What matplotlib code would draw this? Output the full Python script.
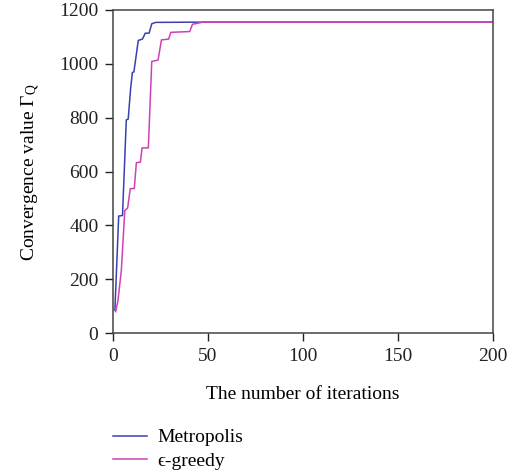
import matplotlib.pyplot as plt
import numpy as np

plt.rcParams['font.family'] = ['Liberation Serif', 'DejaVu Serif']
plt.rcParams['mathtext.fontset'] = 'custom'
plt.rcParams['mathtext.rm'] = 'Liberation Serif'
plt.rcParams['mathtext.it'] = 'Liberation Serif:italic'

metro_x = np.array([1, 3, 5, 7, 8, 9.3, 10.2, 11, 13.3, 15.5, 17, 19, 20.4, 22.5, 48, 200])
metro_y = np.array([85, 435, 437, 792, 795, 910, 968, 970, 1087, 1092, 1114, 1114, 1149, 1154, 1155, 1155])

greedy_x = np.array([1.4, 2.6, 4.4, 6.2, 7.7, 9.1, 11.2, 12.3, 14.4, 15.3, 18.6, 20.4, 23.7,
                     25.5, 29.3, 30.4, 40.4, 41.8, 47.4, 200])
greedy_y = np.array([80, 120, 234, 455, 465, 537, 537, 633, 635, 688, 688, 1009, 1014,
                     1089, 1092, 1117, 1120, 1147, 1155, 1155])

fig = plt.figure(figsize=(5.28, 4.76), dpi=100)
ax = fig.add_axes([0.214, 0.300, 0.720, 0.679])

l1, = ax.plot(metro_x, metro_y, color='#3a40b0', lw=1.1, label='Metropolis')
l2, = ax.plot(greedy_x, greedy_y, color='#d040b4', lw=1.1, label='\u03f5-greedy')

ax.set_xlim(0, 200)
ax.set_ylim(0, 1200)
ax.set_xticks([0, 50, 100, 150, 200])
ax.set_yticks(np.arange(0, 1201, 200))
ax.tick_params(direction='out', length=5.5, width=1, labelsize=14, colors='#222222', pad=5)
ax.tick_params(top=False, right=False)
for s in ax.spines.values():
    s.set_color('#444444')
    s.set_linewidth(1.1)

ax.set_xlabel('The number of iterations', fontsize=14, labelpad=15)
ax.set_ylabel(r'Convergence value $\Gamma_\mathrm{Q}$', fontsize=14, labelpad=12)

fig.legend(handles=[l1, l2], loc='upper left', bbox_to_anchor=(0.214, 0.099),
           frameon=False, fontsize=14, handlelength=1.75, labelspacing=0.3,
           handletextpad=0.55, borderaxespad=0, borderpad=0)

fig.savefig('out.png', dpi=100)
